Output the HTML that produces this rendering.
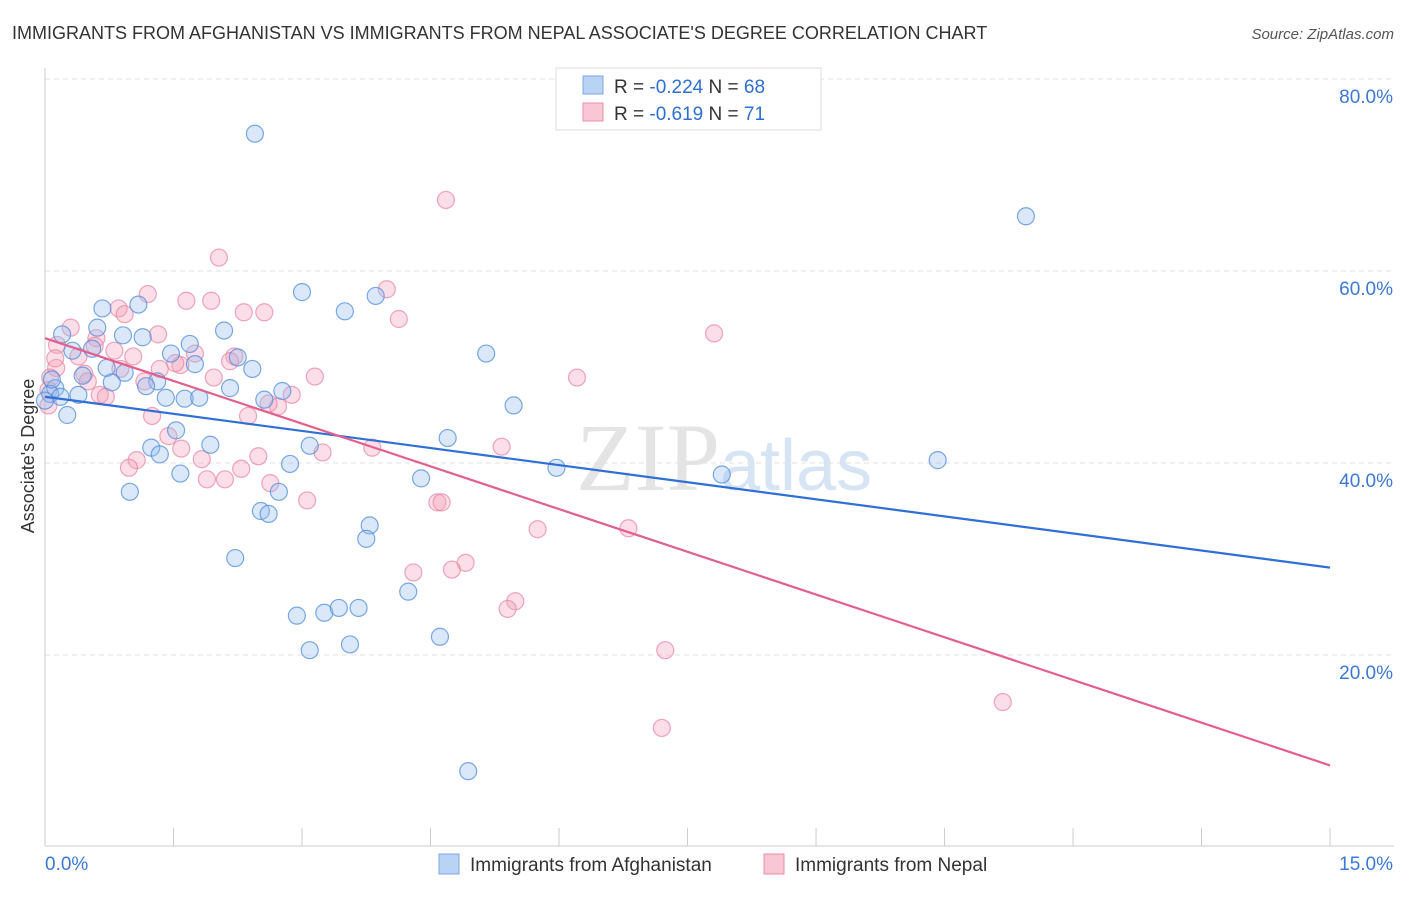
<!DOCTYPE html>
<html><head><meta charset="utf-8"><style>
body{margin:0;background:#fff;font-family:"Liberation Sans",sans-serif}
</style></head><body>
<svg id="c" width="1406" height="892" xmlns="http://www.w3.org/2000/svg">
<text x="12" y="39" font-size="18" fill="#333">IMMIGRANTS FROM AFGHANISTAN VS IMMIGRANTS FROM NEPAL ASSOCIATE'S DEGREE CORRELATION CHART</text>
<text x="1394" y="39" font-size="15" fill="#555" font-style="italic" text-anchor="end">Source: ZipAtlas.com</text>
<text x="720" y="490" font-size="96" fill="#e4e4e4" font-family="Liberation Serif" text-anchor="end">ZIP</text>
<text x="720" y="490" font-size="72" fill="#d6e4f3">atlas</text>
<text x="34" y="456" font-size="18" fill="#333" text-anchor="middle" transform="rotate(-90 34 456)">Associate's Degree</text>
<g id="grid"></g><g id="pts"></g><g id="lines"></g>
<g>
<rect x="556" y="68" width="265" height="62" fill="#fff" stroke="#ddd"/>
<rect x="583" y="76" width="20" height="18" fill="#b9d3f5" stroke="#7aa7e6"/>
<rect x="583" y="103" width="20" height="18" fill="#f8c6d4" stroke="#eb8faa"/>
<text x="614" y="93" font-size="19" fill="#333">R = <tspan fill="#2f6fd1">-0.224</tspan>   N = <tspan fill="#2f6fd1">68</tspan></text>
<text x="614" y="120" font-size="19" fill="#333">R = <tspan fill="#2f6fd1"> -0.619</tspan>   N = <tspan fill="#2f6fd1"> 71</tspan></text>
</g>
<g>
<rect x="439" y="854" width="20" height="20" fill="#b9d3f5" stroke="#7aa7e6"/>
<text x="470" y="871" font-size="19" fill="#333">Immigrants from Afghanistan</text>
<rect x="764" y="854" width="20" height="20" fill="#f8c6d4" stroke="#eb8faa"/>
<text x="795" y="871" font-size="19" fill="#333">Immigrants from Nepal</text>
</g>
</svg>
<script>
const xTickLabels=["0.0%","15.0%"];
const yTicks=[20,40,60,80];
const afgX=[2.45,11.45,3.0,3.86,3.5,0.67,1.09,0.61,0.2,0.91,1.14,2.09,1.69,5.15,2.25,0.32,0.55,1.47,1.75,2.42,0.72,0.93,0.44,0.78,1.31,1.18,2.16,2.77,0.12,0.06,0.18,0.39,1.63,1.8,1.41,2.56,5.47,0.26,1.53,4.7,1.93,1.24,3.09,1.34,2.86,5.97,4.39,1.58,7.9,10.42,0.99,2.73,3.79,2.52,2.61,3.75,2.22,4.24,2.94,3.26,3.43,3.66,4.61,3.09,3.56,4.94,0.0,0.08];
const afgY=[74.3,65.7,57.8,57.4,55.8,56.1,56.5,54.1,53.4,53.3,53.1,53.8,52.4,51.4,51.0,51.7,51.9,51.4,50.3,49.8,49.9,49.4,49.1,48.4,48.5,48.0,47.8,47.5,47.8,47.2,46.9,47.1,46.7,46.8,46.8,46.6,46.0,45.0,43.4,42.6,41.9,41.6,41.8,40.9,39.9,39.5,38.4,38.9,38.8,40.3,37.0,37.0,33.5,35.0,34.7,32.1,30.1,26.6,24.1,24.4,24.9,24.9,21.9,20.5,21.1,7.9,46.5,48.7];
const nepX=[4.68,2.03,3.99,1.2,1.65,1.94,2.32,2.56,0.86,0.93,4.13,0.3,1.32,7.81,0.6,0.14,0.58,0.81,0.39,1.03,2.21,1.75,1.58,1.52,2.16,0.13,0.06,0.46,1.97,3.15,6.21,0.64,0.71,1.16,2.88,2.72,2.37,1.25,1.44,1.59,5.33,3.82,3.24,2.49,1.07,1.83,0.98,2.29,1.89,2.1,2.63,3.06,4.58,4.63,5.75,6.81,4.91,4.3,4.75,5.49,5.4,7.24,11.18,7.2,0.04,0.04,0.12,0.88,1.34,2.61,0.5];
const nepY=[67.4,61.4,58.1,57.6,56.9,56.9,55.7,55.7,56.1,55.5,55.0,54.1,53.4,53.5,53.0,52.3,52.2,51.7,51.1,51.1,51.1,51.4,50.2,50.4,50.6,49.9,48.9,49.3,48.9,49.0,48.9,47.1,46.9,48.5,47.1,45.9,44.9,44.9,42.8,41.5,41.7,41.6,41.1,40.7,40.3,40.4,39.5,39.4,38.3,38.3,37.9,36.1,35.9,35.9,33.1,33.2,29.6,28.6,28.9,25.6,24.8,20.5,15.1,12.4,46.0,47.6,50.9,49.8,49.8,46.2,48.5];
const afgTrend=[46.9,29.1], nepTrend=[53.0,8.5];
const NS="http://www.w3.org/2000/svg";
const sx=v=>45+v*85.67, sy=v=>847-v*9.6;
function mk(t,a,p){const e=document.createElementNS(NS,t);for(const k in a)e.setAttribute(k,a[k]);p.appendChild(e);return e;}
const grid=document.getElementById('grid');
yTicks.forEach(t=>{
 const l=mk('line',{x1:45,x2:1394,y1:sy(t),y2:sy(t),stroke:'#e2e2e2','stroke-dasharray':'5,4'},grid);
 
 
 const tx=mk('text',{x:1393,y:sy(t)+24,'font-size':19,fill:'#3c78d8','text-anchor':'end'},grid);
 tx.textContent=t.toFixed(1)+'%';
 
 
});
mk('line',{x1:45,x2:45,y1:68,y2:846,stroke:'#ccc'},grid);
mk('line',{x1:45,x2:1394,y1:846,y2:846,stroke:'#ccc'},grid);
for(let i=0;i<=10;i++){mk('line',{x1:sx(i*1.5),x2:sx(i*1.5),y1:828,y2:846,stroke:'#ccc'},grid);}
const xl=mk('text',{x:45,y:870,'font-size':19,fill:'#3c78d8'},grid);xl.textContent=xTickLabels[0];


const xr=mk('text',{x:1393,y:870,'font-size':19,fill:'#3c78d8','text-anchor':'end'},grid);xr.textContent=xTickLabels[1];


const pts=document.getElementById('pts');
nepX.forEach((x,i)=>{const c=mk('circle',{cx:sx(x),cy:sy(nepY[i]),r:8.5,fill:'rgba(244,160,186,0.35)',stroke:'rgba(232,130,160,0.7)','stroke-width':1.2},pts);
 
 });
afgX.forEach((x,i)=>{const c=mk('circle',{cx:sx(x),cy:sy(afgY[i]),r:8.5,fill:'rgba(150,190,240,0.35)',stroke:'rgba(80,140,220,0.75)','stroke-width':1.2},pts);
 
 });
const lines=document.getElementById('lines');
const la=mk('line',{x1:sx(0),y1:sy(afgTrend[0]),x2:sx(15),y2:sy(afgTrend[1]),stroke:'#2f6fd6','stroke-width':2.2},lines);


const ln=mk('line',{x1:sx(0),y1:sy(nepTrend[0]),x2:sx(15),y2:sy(nepTrend[1]),stroke:'#e4608c','stroke-width':2.2},lines);


</script>
</body></html>
